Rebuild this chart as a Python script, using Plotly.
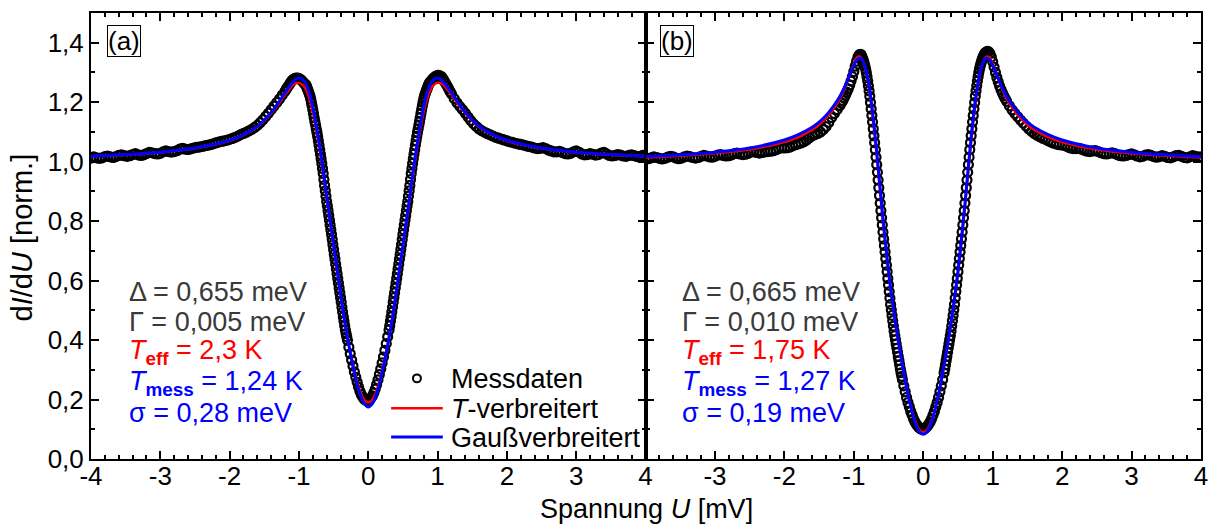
import numpy as np
import plotly.graph_objects as go

# ---------------- voltage grid (|U| in mV), measurement sampling ----------------
U_abs = np.concatenate([
    np.round(np.arange(0.00, 0.29, 0.02), 2),
    np.round(np.arange(0.30, 0.905, 0.01), 2),
    np.round(np.arange(0.92, 1.19, 0.02), 2),
    np.round(np.arange(1.20, 4.001, 0.04), 2),
])

# ---------------- panel (a) measured dI/dU ----------------
a_meas_pos = [
    0.198, 0.200, 0.205, 0.212, 0.222, 0.235, 0.250, 0.266, 0.284, 0.303, 0.323, 0.343, 0.365, 0.388, 0.411,
    0.434, 0.448, 0.463, 0.478, 0.494, 0.510, 0.527, 0.543, 0.559, 0.575,
    0.591, 0.607, 0.623, 0.639, 0.655, 0.672, 0.688, 0.705, 0.721, 0.738,
    0.755, 0.771, 0.787, 0.803, 0.819, 0.835, 0.851, 0.866, 0.884, 0.902,
    0.920, 0.940, 0.960, 0.977, 0.994, 1.010, 1.025, 1.040, 1.055, 1.070,
    1.085, 1.098, 1.110, 1.123, 1.135, 1.148, 1.162, 1.175, 1.187, 1.199,
    1.210, 1.220, 1.227, 1.234, 1.240, 1.246, 1.253, 1.259, 1.263, 1.267,
    1.270,
    1.276, 1.281, 1.285, 1.288, 1.290, 1.290, 1.288, 1.285, 1.278, 1.270, 1.262, 1.254, 1.245, 1.236,
    1.228, 1.212, 1.198, 1.186, 1.175, 1.163, 1.150, 1.138, 1.127, 1.118,
    1.110, 1.104, 1.099, 1.094, 1.090, 1.086, 1.082, 1.079, 1.076, 1.073,
    1.070, 1.067, 1.065, 1.062, 1.060, 1.058, 1.056, 1.053, 1.051, 1.049,
    1.046, 1.044, 1.045, 1.047, 1.044, 1.039, 1.036, 1.033, 1.033, 1.035,
    1.031, 1.027, 1.026, 1.028, 1.033, 1.036, 1.032, 1.026, 1.023, 1.024,
    1.027, 1.025, 1.022, 1.024, 1.029, 1.031, 1.026, 1.021, 1.019, 1.021,
    1.024, 1.022, 1.019, 1.018, 1.021, 1.023, 1.020, 1.017, 1.018, 1.021,
    1.019,
]
a_meas_neg = [  # values at -U_abs[1:]
    0.198, 0.198, 0.202, 0.208, 0.217, 0.228, 0.242, 0.258, 0.275, 0.293, 0.313, 0.333, 0.354, 0.376,
    0.399, 0.411, 0.422,
    0.434, 0.448, 0.463, 0.478, 0.494, 0.510, 0.527, 0.543, 0.559, 0.575,
    0.591, 0.607, 0.623, 0.639, 0.655, 0.672, 0.688, 0.705, 0.721, 0.738,
    0.755, 0.771, 0.787, 0.803, 0.819, 0.835, 0.851, 0.866, 0.884, 0.902,
    0.920, 0.940, 0.960, 0.977, 0.994, 1.010, 1.025, 1.040, 1.055, 1.070,
    1.085, 1.098, 1.110, 1.123, 1.135, 1.148, 1.162, 1.175, 1.187, 1.199,
    1.210, 1.220, 1.227, 1.234, 1.240, 1.246, 1.253, 1.259,
    1.262, 1.268, 1.273, 1.277, 1.280, 1.281, 1.281, 1.280, 1.277, 1.273, 1.266, 1.259, 1.252, 1.245,
    1.237, 1.224, 1.211, 1.199, 1.187, 1.175, 1.163, 1.152, 1.141, 1.131,
    1.122, 1.115, 1.109, 1.104, 1.099, 1.095, 1.091, 1.086, 1.082, 1.078,
    1.075, 1.072, 1.070, 1.068, 1.066, 1.063, 1.060, 1.057, 1.055, 1.053,
    1.051, 1.049, 1.048, 1.046, 1.043, 1.041, 1.042, 1.045, 1.042, 1.037,
    1.034, 1.032, 1.034, 1.036, 1.033, 1.028, 1.026, 1.027, 1.030, 1.031,
    1.027, 1.023, 1.021, 1.023, 1.027, 1.024, 1.020, 1.018, 1.020, 1.023,
    1.021, 1.017, 1.014, 1.016, 1.019, 1.017, 1.013, 1.011, 1.013, 1.016,
    1.012,
]

# ---------------- panel (b) measured dI/dU ----------------
b_meas_pos = [
    0.100, 0.102, 0.106, 0.111, 0.117, 0.125, 0.135, 0.147, 0.160, 0.175, 0.190, 0.207, 0.226, 0.246, 0.267,
    0.290, 0.303, 0.317, 0.331, 0.345, 0.359, 0.373, 0.387, 0.401, 0.415,
    0.430, 0.447, 0.465, 0.483, 0.501, 0.520, 0.541, 0.563, 0.585, 0.607,
    0.630, 0.652, 0.674, 0.696, 0.718, 0.740, 0.763, 0.787, 0.811, 0.835,
    0.860, 0.886, 0.912, 0.938, 0.964, 0.990, 1.015, 1.040, 1.064, 1.087,
    1.110, 1.133, 1.155, 1.177, 1.199, 1.220, 1.238, 1.255, 1.271, 1.286,
    1.300, 1.311, 1.321, 1.330, 1.338, 1.345, 1.351, 1.356, 1.361, 1.365,
    1.368,
    1.371, 1.370, 1.364, 1.352, 1.336, 1.318, 1.300, 1.283, 1.268, 1.254, 1.242, 1.231, 1.221, 1.212,
    1.203, 1.188, 1.174, 1.162, 1.151, 1.140, 1.130, 1.120, 1.110, 1.102,
    1.095, 1.089, 1.084, 1.079, 1.075, 1.070, 1.066, 1.062, 1.059, 1.057,
    1.056, 1.054, 1.050, 1.046, 1.044, 1.044, 1.045, 1.042, 1.038, 1.035,
    1.034, 1.036, 1.037, 1.034, 1.030, 1.027, 1.026, 1.028, 1.030, 1.027,
    1.023, 1.020, 1.019, 1.021, 1.024, 1.026, 1.023, 1.019, 1.016, 1.018,
    1.022, 1.024, 1.021, 1.017, 1.015, 1.017, 1.020, 1.018, 1.014, 1.013,
    1.016, 1.020, 1.021, 1.018, 1.014, 1.013, 1.016, 1.020, 1.018, 1.015,
    1.016,
]
b_meas_neg = [  # values at -U_abs[1:]
    0.100, 0.102, 0.106, 0.111, 0.117, 0.125, 0.135, 0.147, 0.160, 0.175, 0.190, 0.207, 0.226, 0.246,
    0.267, 0.278,
    0.290, 0.303, 0.317, 0.331, 0.345, 0.359, 0.373, 0.387, 0.401, 0.415,
    0.430, 0.447, 0.465, 0.483, 0.501, 0.520, 0.541, 0.563, 0.585, 0.607,
    0.630, 0.652, 0.674, 0.696, 0.718, 0.740, 0.763, 0.787, 0.811, 0.835,
    0.860, 0.886, 0.912, 0.938, 0.964, 0.990, 1.015, 1.040, 1.064, 1.087,
    1.110, 1.133, 1.155, 1.177, 1.199, 1.220, 1.238, 1.255, 1.271, 1.286,
    1.300, 1.311, 1.321, 1.330, 1.338, 1.345, 1.351, 1.356, 1.361,
    1.360, 1.352, 1.338, 1.321, 1.303, 1.286, 1.271, 1.257, 1.245, 1.234, 1.224, 1.214, 1.205, 1.197,
    1.189, 1.175, 1.162, 1.148, 1.132, 1.118, 1.108, 1.100, 1.095, 1.091,
    1.087, 1.080, 1.073, 1.067, 1.063, 1.060, 1.057, 1.053, 1.049, 1.047,
    1.046, 1.047, 1.044, 1.040, 1.037, 1.035, 1.034, 1.033, 1.031, 1.029,
    1.031, 1.034, 1.032, 1.028, 1.025, 1.024, 1.026, 1.029, 1.027, 1.023,
    1.020, 1.019, 1.021, 1.024, 1.022, 1.018, 1.015, 1.016, 1.019, 1.021,
    1.018, 1.014, 1.012, 1.014, 1.017, 1.019, 1.016, 1.012, 1.010, 1.012,
    1.016, 1.018, 1.015, 1.011, 1.009, 1.011, 1.014, 1.016, 1.013, 1.010,
    1.012,
]

# ---------------- fits (symmetric in U), sampled at |U| ----------------
fit_U_abs = [0.00, 0.05, 0.10, 0.15, 0.20, 0.25, 0.30, 0.35, 0.40, 0.45, 0.50, 0.55, 0.60,
             0.65, 0.70, 0.75, 0.80, 0.85, 0.90, 0.95, 1.00, 1.05, 1.10, 1.15, 1.20,
             1.30, 1.40, 1.50, 1.60, 1.80, 2.00, 2.50, 3.00, 3.50, 4.00]
a_fit_T = [0.190, 0.197, 0.218, 0.252, 0.296, 0.349, 0.410, 0.477, 0.553, 0.632, 0.713, 0.795, 0.877,
           0.962, 1.040, 1.108, 1.168, 1.213, 1.243, 1.259, 1.265, 1.263, 1.254, 1.240, 1.225,
           1.192, 1.162, 1.137, 1.117, 1.089, 1.070, 1.045, 1.031, 1.023, 1.018]
a_fit_G = [0.175, 0.183, 0.206, 0.243, 0.290, 0.346, 0.408, 0.477, 0.556, 0.637, 0.719, 0.802, 0.884,
           0.972, 1.052, 1.122, 1.185, 1.232, 1.262, 1.277, 1.281, 1.276, 1.264, 1.249, 1.232,
           1.197, 1.166, 1.140, 1.119, 1.091, 1.072, 1.046, 1.032, 1.024, 1.018]
b_fit_T = [0.090, 0.097, 0.118, 0.152, 0.197, 0.252, 0.314, 0.382, 0.455, 0.536, 0.626, 0.730, 0.846,
           0.970, 1.090, 1.192, 1.272, 1.326, 1.352, 1.352, 1.330, 1.298, 1.265, 1.236, 1.212,
           1.175, 1.146, 1.124, 1.107, 1.083, 1.066, 1.041, 1.028, 1.020, 1.014]
b_fit_G = [0.083, 0.090, 0.112, 0.148, 0.195, 0.252, 0.316, 0.385, 0.458, 0.540, 0.632, 0.740, 0.858,
           0.985, 1.105, 1.205, 1.280, 1.328, 1.348, 1.344, 1.324, 1.297, 1.268, 1.242, 1.220,
           1.184, 1.155, 1.133, 1.116, 1.091, 1.073, 1.046, 1.032, 1.023, 1.017]

# ---------------- text ----------------
x_ticks = [-4, -3, -2, -1, 0, 1, 2, 3, 4]
x_ticktext_a = ["-4", "-3", "-2", "-1", "0", "1", "2", "3", "4"]
x_ticks_b = [-3, -2, -1, 0, 1, 2, 3, 4]
x_ticktext_b = ["-3", "-2", "-1", "0", "1", "2", "3", "4"]
y_ticks = [0.0, 0.2, 0.4, 0.6, 0.8, 1.0, 1.2, 1.4]
y_ticktext = ["0,0", "0,2", "0,4", "0,6", "0,8", "1,0", "1,2", "1,4"]
params_a = ["Δ = 0,655 meV", "Γ = 0,005 meV", "<i>T</i><sub><b>eff</b></sub> = 2,3 K",
            "<i>T</i><sub><b>mess</b></sub> = 1,24 K", "σ = 0,28 meV"]
params_b = ["Δ = 0,665 meV", "Γ = 0,010 meV", "<i>T</i><sub><b>eff</b></sub> = 1,75 K",
            "<i>T</i><sub><b>mess</b></sub> = 1,27 K", "σ = 0,19 meV"]
param_colors = ["#3a3a3a", "#3a3a3a", "#ff0000", "#0000ff", "#0000ff"]
legend_names = ["Messdaten", "<i>T</i>-verbreitert", "Gaußverbreitert"]

for arr in (a_meas_pos, b_meas_pos):
    assert len(arr) == len(U_abs), len(arr)
for arr in (a_meas_neg, b_meas_neg):
    assert len(arr) == len(U_abs) - 1, len(arr)
for arr in (a_fit_T, a_fit_G, b_fit_T, b_fit_G):
    assert len(arr) == len(fit_U_abs)

FONT = "Liberation Sans, Arial, Helvetica, sans-serif"
W, H = 1219, 525
L, R, T, B = 91, 11, 11, 66
PW, PH = W - L - R, H - T - B
RED, BLUE = "#ff0000", "#0000ff"


def px_x(p):
    return (p - L) / PW


def px_y(p):
    return (H - B - p) / PH


def meas_xy(pos, neg):
    x = list(-U_abs[1:][::-1]) + list(U_abs)
    y = list(neg[::-1]) + list(pos)
    return x, y


def fit_xy(vals):
    x = [-u for u in fit_U_abs[::-1]] + fit_U_abs[1:]
    y = vals[::-1] + vals[1:]
    return x, y


fig = go.Figure()
panels = [("x", "y", a_meas_pos, a_meas_neg, a_fit_T, a_fit_G),
          ("x2", "y2", b_meas_pos, b_meas_neg, b_fit_T, b_fit_G)]
for xa, ya, pos, neg, fT, fG in panels:
    mx, my = meas_xy(pos, neg)
    fig.add_trace(go.Scatter(x=mx, y=my, mode="markers", name=legend_names[0],
                             marker=dict(symbol="circle-open", size=9, color="black",
                                         line=dict(width=2.2, color="black")),
                             xaxis=xa, yaxis=ya, showlegend=False))
    tx, ty = fit_xy(fT)
    fig.add_trace(go.Scatter(x=tx, y=ty, mode="lines", name=legend_names[1],
                             line=dict(color=RED, width=2.5, shape="spline", smoothing=0.8),
                             xaxis=xa, yaxis=ya, showlegend=False))
    gx, gy = fit_xy(fG)
    fig.add_trace(go.Scatter(x=gx, y=gy, mode="lines", name=legend_names[2],
                             line=dict(color=BLUE, width=3, shape="spline", smoothing=0.8),
                             xaxis=xa, yaxis=ya, showlegend=False))

axis_common = dict(showline=True, linewidth=2, linecolor="black", mirror="allticks",
                   ticks="inside", ticklen=8, tickwidth=2, tickcolor="black",
                   showgrid=False, zeroline=False,
                   tickfont=dict(family=FONT, size=26, color="black"))
xminor = dict(ticks="inside", dtick=0.2, tick0=0, ticklen=4, tickwidth=1.5, tickcolor="black")
yminor = dict(ticks="inside", dtick=0.1, tick0=0, ticklen=4, tickwidth=1.5, tickcolor="black")
fig.update_layout(
    xaxis=dict(domain=[0, px_x(649)], range=[-4, 4], tickvals=x_ticks, ticktext=x_ticktext_a,
               minor=xminor, anchor="y", ticklabelstandoff=-7, **axis_common),
    xaxis2=dict(domain=[px_x(649), 1], range=[-4, 4], tickvals=x_ticks_b, ticktext=x_ticktext_b,
                minor=xminor, anchor="y2", ticklabelstandoff=-7, **axis_common),
    yaxis=dict(domain=[0, 1], range=[0, 1.5], tickvals=y_ticks, ticktext=y_ticktext,
               minor=yminor, anchor="x", **axis_common),
    yaxis2=dict(domain=[0, 1], range=[0, 1.5], tickvals=y_ticks, showticklabels=False,
                minor=yminor, anchor="x2", **axis_common),
    width=W, height=H,
    margin=dict(l=L, r=R, t=T, b=B, pad=0),
    paper_bgcolor="white", plot_bgcolor="white",
    font=dict(family=FONT, size=26, color="black"),
    showlegend=False,
)

annotations = []
annotations.append(dict(text="d<i>I</i>/d<i>U</i> [norm.]", x=px_x(22), y=px_y(236),
                        xref="paper", yref="paper", xanchor="center", yanchor="middle",
                        showarrow=False, textangle=-90,
                        font=dict(family=FONT, size=29, color="black")))
annotations.append(dict(text="Spannung <i>U</i> [mV]", x=px_x(650), y=px_y(509),
                        xref="paper", yref="paper", xanchor="center", yanchor="middle",
                        showarrow=False, font=dict(family=FONT, size=27, color="black")))
for lbl, cx in (("(a)", 124.5), ("(b)", 680.5)):
    annotations.append(dict(text=lbl, x=px_x(cx), y=px_y(39.5), xref="paper", yref="paper",
                            xanchor="center", yanchor="middle",
                            showarrow=False, bordercolor="black", borderwidth=1, borderpad=0,
                            bgcolor="white", font=dict(family=FONT, size=26, color="black")))
line_y = [291, 321.5, 352, 382.5, 413]
for params, left_px in ((params_a, 127), (params_b, 684)):
    for txt, py, col in zip(params, line_y, param_colors):
        annotations.append(dict(text=txt, x=px_x(left_px), y=px_y(py), xref="paper", yref="paper",
                                xanchor="left", yanchor="middle", showarrow=False,
                                height=30, valign="middle",
                                font=dict(family=FONT, size=27, color=col)))
# legend (inside panel a)
legend_rows = [378, 408, 437]
for name, py in zip(legend_names, legend_rows):
    annotations.append(dict(text=name, x=px_x(451), y=px_y(py), xref="paper", yref="paper",
                            xanchor="left", yanchor="middle", showarrow=False,
                            height=29, valign="middle",
                            font=dict(family=FONT, size=27, color="black")))
shapes = [
    dict(type="circle", xref="paper", yref="paper",
         x0=px_x(415), x1=px_x(423), y0=px_y(382), y1=px_y(374),
         line=dict(color="black", width=2)),
    dict(type="line", xref="paper", yref="paper",
         x0=px_x(393), x1=px_x(445), y0=px_y(legend_rows[1]), y1=px_y(legend_rows[1]),
         line=dict(color=RED, width=2.5)),
    dict(type="line", xref="paper", yref="paper",
         x0=px_x(393), x1=px_x(445), y0=px_y(legend_rows[2]), y1=px_y(legend_rows[2]),
         line=dict(color=BLUE, width=3)),
]
fig.update_layout(annotations=annotations, shapes=shapes)

fig.write_html("out.html")
